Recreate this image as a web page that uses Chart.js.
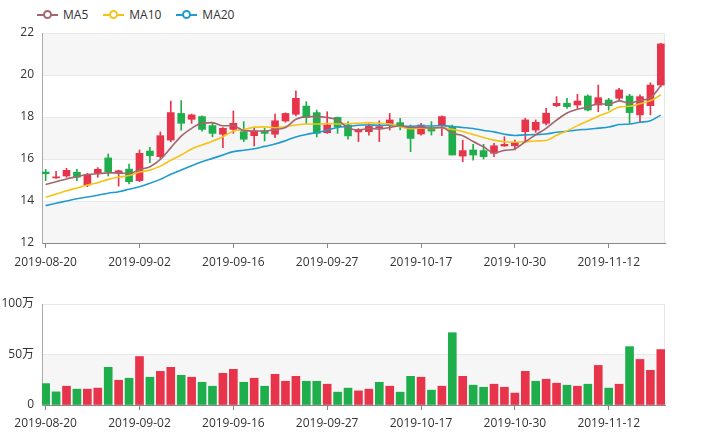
<!DOCTYPE html>
<html>
<head>
<meta charset="utf-8">
<script src="https://cdn.jsdelivr.net/npm/chart.js@4.4.1/dist/chart.umd.min.js"></script>
<style>
  body { margin: 0; background: #fff; width: 711px; height: 438px; overflow: hidden; position: relative;
         font-family: "Open Sans", "Noto Sans CJK SC", sans-serif; }
  #kline { position: absolute; left: 0; top: 0; }
  #vol { position: absolute; left: 0; top: 280px; }
  #legend { position: absolute; left: 37px; top: 9px; display: flex; font-size: 12px; color: #333; line-height: 12px; }
  .item { display: flex; align-items: center; margin-right: 15px; }
  .icon { position: relative; width: 21px; height: 10px; margin-right: 5px; }
  .icon .ln { position: absolute; left: 0; right: 0; top: 4px; height: 2px; }
  .icon .dot { position: absolute; left: 6px; top: 0px; width: 5px; height: 5px; border: 2px solid; border-radius: 50%; background: #fff; }
</style>
</head>
<body>
<div id="legend"></div>
<canvas id="kline" width="711" height="280"></canvas>
<canvas id="vol" width="711" height="158"></canvas>
<script>
const dates = ['2019-08-20','2019-08-21','2019-08-22','2019-08-23','2019-08-26','2019-08-27','2019-08-28','2019-08-29','2019-08-30',
  '2019-09-02','2019-09-03','2019-09-04','2019-09-05','2019-09-06','2019-09-09','2019-09-10','2019-09-11','2019-09-12',
  '2019-09-16','2019-09-17','2019-09-18','2019-09-19','2019-09-20','2019-09-23','2019-09-24','2019-09-25','2019-09-26',
  '2019-09-27','2019-09-30','2019-10-08','2019-10-09','2019-10-10','2019-10-11','2019-10-14','2019-10-15','2019-10-16',
  '2019-10-17','2019-10-18','2019-10-21','2019-10-22','2019-10-23','2019-10-24','2019-10-25','2019-10-28','2019-10-29',
  '2019-10-30','2019-10-31','2019-11-01','2019-11-04','2019-11-05','2019-11-06','2019-11-07','2019-11-08','2019-11-11',
  '2019-11-12','2019-11-13','2019-11-14','2019-11-15','2019-11-18','2019-11-19'];
const tickIdx = [0, 9, 18, 27, 36, 45, 54];

const opens  = [15.38,15.10,15.19,15.37,14.76,15.32,16.05,15.32,15.52,14.97, 16.38,16.11,16.90,18.17,17.89,18.02,17.59,17.18,17.41,17.30,
                17.11,17.33,17.18,17.81,18.13,18.52,18.21,17.25,17.98,17.62, 17.29,17.30,17.48,17.62,17.73,17.54,17.19,17.49,17.59,17.54,
                16.14,16.43,16.40,16.27,16.62,16.63,17.30,17.38,17.70,18.54, 18.65,18.57,19.00,18.57,18.81,18.89,19.00,18.10,18.54,19.52];
const closes = [15.30,15.15,15.46,15.13,15.24,15.51,15.38,15.44,14.92,16.27, 16.16,17.11,18.21,17.70,18.10,17.41,17.22,17.46,17.70,16.94,
                17.33,17.22,17.82,18.17,18.89,17.98,17.22,17.62,17.54,17.10, 17.41,17.57,17.54,17.86,17.54,16.98,17.62,17.33,18.02,16.19,
                16.40,16.19,16.11,16.63,16.70,16.79,17.86,17.75,18.18,18.65, 18.49,18.76,18.33,18.92,18.54,19.29,18.21,18.97,19.52,21.48];
const lows   = [14.97,15.07,15.13,14.97,14.68,15.13,15.19,14.71,14.81,14.92, 15.83,16.03,16.82,17.37,17.70,17.33,17.06,16.54,17.22,16.83,
                16.62,16.86,17.01,17.75,18.05,17.69,17.05,17.22,17.22,16.94, 16.83,17.14,16.83,17.38,17.38,16.35,17.14,17.14,17.11,16.19,
                15.87,15.95,16.00,16.11,16.60,16.43,16.82,17.27,17.62,18.49, 18.41,18.41,18.29,18.25,18.33,18.81,17.70,17.75,18.10,19.44];
const highs  = [15.51,15.41,15.56,15.51,15.32,15.59,16.24,15.47,15.76,16.43, 16.56,17.29,18.76,18.78,18.14,18.05,17.70,17.50,18.29,17.78,
                17.51,17.46,18.14,18.20,19.25,18.73,18.33,18.25,18.00,17.78, 17.45,17.67,17.82,18.17,17.94,17.62,17.70,17.78,18.06,17.62,
                16.90,16.70,16.70,16.75,17.06,16.90,17.94,17.86,18.41,18.97, 18.89,19.08,19.05,19.52,18.89,19.37,19.08,19.05,19.63,21.51];

const ma5  = [14.79,14.92,15.05,15.16,15.26,15.30,15.34,15.34,15.30,15.50, 15.63,15.98,16.53,17.09,17.46,17.71,17.73,17.58,17.58,17.35,
              17.33,17.33,17.40,17.50,17.89,18.02,18.02,17.98,17.85,17.49, 17.38,17.45,17.43,17.50,17.58,17.50,17.51,17.47,17.50,17.23,
              17.11,16.83,16.58,16.30,16.41,16.48,16.82,17.15,17.46,17.85, 18.19,18.37,18.48,18.63,18.61,18.77,18.66,18.79,18.91,19.49];
const ma10 = [14.18,14.33,14.49,14.62,14.76,14.87,15.03,15.13,15.21,15.38, 15.47,15.66,15.94,16.19,16.48,16.67,16.85,17.06,17.33,17.40,
              17.52,17.53,17.49,17.54,17.62,17.67,17.67,17.69,17.67,17.69, 17.70,17.73,17.70,17.67,17.54,17.44,17.48,17.45,17.50,17.41,
              17.31,17.17,17.02,16.90,16.82,16.80,16.82,16.86,16.88,17.13, 17.34,17.59,17.81,18.04,18.23,18.48,18.51,18.63,18.77,19.05];
const ma20 = [13.78,13.89,14.00,14.11,14.19,14.27,14.37,14.44,14.56,14.68, 14.84,15.03,15.27,15.48,15.68,15.87,16.03,16.19,16.35,16.42,
              16.49,16.60,16.71,16.87,17.05,17.17,17.26,17.37,17.50,17.55, 17.61,17.63,17.60,17.61,17.58,17.56,17.58,17.57,17.59,17.55,
              17.50,17.45,17.36,17.29,17.18,17.12,17.15,17.16,17.19,17.27, 17.32,17.38,17.42,17.47,17.52,17.64,17.67,17.75,17.82,18.09];

// volume in 万
const volumes = [21.2,13.0,18.6,15.7,15.7,16.7,37.3,24.5,26.5,48.0, 27.5,33.3,37.3,29.4,27.5,22.5,18.6,31.4,35.3,22.5,
                 26.5,18.6,30.4,23.5,28.4,23.5,23.5,20.6,12.7,16.7, 14.0,15.7,22.5,18.6,12.7,28.4,27.5,14.7,18.6,71.6,
                 28.4,19.6,17.6,20.6,17.6,11.8,33.3,23.5,25.5,21.6, 19.6,18.6,20.6,39.2,16.7,20.6,57.8,45.1,34.3,54.9];

const UP = '#e8344b', DOWN = '#1fae4c';
const maSeries = [
  { name: 'MA5', data: ma5, color: '#a2666f' },
  { name: 'MA10', data: ma10, color: '#f5c316' },
  { name: 'MA20', data: ma20, color: '#1f9bcf' }
];

Chart.defaults.font.family = '"Open Sans", "Noto Sans CJK SC", sans-serif';
Chart.defaults.font.size = 12;
Chart.defaults.color = '#333';

// legend
const legend = document.getElementById('legend');
maSeries.forEach(s => {
  const it = document.createElement('div');
  it.className = 'item';
  it.innerHTML = `<span class="icon"><span class="ln" style="background:${s.color}"></span><span class="dot" style="border-color:${s.color}"></span></span><span>${s.name}</span>`;
  legend.appendChild(it);
});

const candleColors = opens.map((o, i) => closes[i] >= o ? UP : DOWN);
const volColors = closes.map((c, i) => (i === 0 ? c >= opens[0] : c >= closes[i - 1]) ? UP : DOWN);

// alternating split area + right edge
const splitArea = {
  id: 'splitArea',
  beforeDraw(chart) {
    const { ctx, chartArea } = chart;
    const ys = chart.scales.y.ticks.map(t => chart.scales.y.getPixelForValue(t.value)).sort((a, b) => b - a);
    ctx.save();
    ctx.fillStyle = '#f6f6f6';
    for (let i = 0; i < ys.length - 1; i++) {
      if (i % 2 === 0) ctx.fillRect(chartArea.left, ys[i + 1], chartArea.right - chartArea.left, ys[i] - ys[i + 1]);
    }
    ctx.strokeStyle = '#e6e6e6';
    ctx.lineWidth = 1;
    ctx.beginPath();
    ctx.moveTo(chartArea.right - 0.5, chartArea.top);
    ctx.lineTo(chartArea.right - 0.5, chartArea.bottom);
    ctx.stroke();
    ctx.restore();
  }
};

const xAxis = (h, pad) => ({
  type: 'linear',
  offset: false,
  min: -0.35,
  max: 59.4,
  afterBuildTicks: s => { s.ticks = tickIdx.map(v => ({ value: v })); },
  afterFit: s => { s.height = h; },
  ticks: { callback: v => dates[v], autoSkip: false, maxRotation: 0, padding: pad, color: '#333' },
  grid: { offset: false, drawOnChartArea: false, drawTicks: true, tickLength: 5, color: '#888' },
  border: { color: '#888' }
});

new Chart(document.getElementById('kline'), {
  type: 'bar',
  data: {
    datasets: [
      ...maSeries.map(s => ({
        type: 'line', label: s.name,
        data: s.data.map((v, i) => ({ x: i, y: v })),
        borderColor: s.color, borderWidth: 1.6, pointRadius: 0,
        cubicInterpolationMode: 'monotone', order: 0
      })),
      {
        label: 'K',
        data: opens.map((o, i) => ({ x: i, y: [o, closes[i]] })),
        backgroundColor: candleColors, barThickness: 7, minBarLength: 1, grouped: false, order: 1
      },
      {
        label: 'wick',
        data: lows.map((l, i) => ({ x: i, y: [l, highs[i]] })),
        backgroundColor: candleColors, barThickness: 1, grouped: false, order: 2
      }
    ]
  },
  options: {
    responsive: false,
    animation: false,
    layout: { padding: { top: 33, right: 46, left: 0, bottom: 0 } },
    plugins: { legend: { display: false }, tooltip: { enabled: false } },
    scales: {
      x: xAxis(37, 7),
      y: {
        min: 12, max: 22,
        afterFit: s => { s.width = 42; },
        ticks: { stepSize: 2, padding: 8, color: '#333' },
        grid: { color: '#e8e8e8', drawTicks: false },
        border: { display: true, color: '#aaa' }
      }
    }
  },
  plugins: [splitArea]
});

new Chart(document.getElementById('vol'), {
  type: 'bar',
  data: {
    datasets: [{
      label: 'Volume',
      data: volumes.map((v, i) => ({ x: i, y: v })),
      backgroundColor: volColors, barThickness: 8
    }]
  },
  options: {
    responsive: false,
    animation: false,
    layout: { padding: { top: 24, right: 46, left: 0, bottom: 0 } },
    plugins: { legend: { display: false }, tooltip: { enabled: false } },
    scales: {
      x: xAxis(33, 6),
      y: {
        min: 0, max: 100,
        afterFit: s => { s.width = 42; },
        ticks: { stepSize: 50, padding: 8, color: '#333', callback: v => v === 0 ? '0' : v + '万' },
        grid: { color: '#e8e8e8', drawTicks: false },
        border: { display: true, color: '#aaa' }
      }
    }
  },
  plugins: [splitArea]
});
</script>
</body>
</html>
